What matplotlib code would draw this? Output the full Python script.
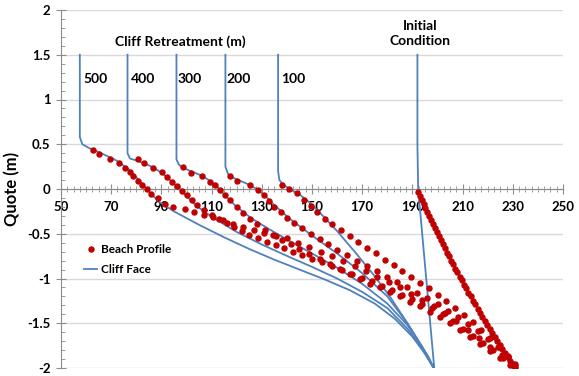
import numpy as np
import matplotlib.pyplot as plt
from matplotlib.ticker import MultipleLocator, FixedLocator
from matplotlib.lines import Line2D

plt.rcParams['font.family'] = ['Lato', 'DejaVu Sans']
plt.rcParams['font.weight'] = 'bold'

red = '#C00000'
blue = '#4F81BD'

# cliff face profiles (m): vertical cliff, toe and rock platform
cliff_init_x = [192.0, 192.0, 192.3, 195.5, 198.7]
cliff_init_y = [1.5, 0.5, 0.0, -1.0, -2.0]
cliff_100_x = [136.5, 136.5, 137.0, 138.5, 141, 145, 149, 153, 160, 167, 174, 181, 188, 193, 196.5, 198.5]
cliff_100_y = [1.5, 0.2, 0.1, 0.05, 0.0, -0.06, -0.15, -0.26, -0.47, -0.7, -0.94, -1.2, -1.5, -1.72, -1.88, -2.0]
cliff_200_x = [115.5, 115.5, 116.5, 119, 124, 128, 131, 135, 141, 150, 160, 170, 180, 188, 194, 198.5]
cliff_200_y = [1.5, 0.25, 0.17, 0.12, 0.06, 0.0, -0.07, -0.18, -0.33, -0.52, -0.72, -0.94, -1.2, -1.5, -1.78, -2.0]
cliff_300_x = [96, 96, 97, 100, 106, 110, 113, 116, 120, 126, 133, 141, 150, 160, 170, 180, 188, 194, 198.5]
cliff_300_y = [1.5, 0.33, 0.27, 0.22, 0.15, 0.08, 0.0, -0.09, -0.2, -0.33, -0.45, -0.58, -0.72, -0.88, -1.06, -1.28, -1.52, -1.77, -2.0]
cliff_400_x = [76.5, 76.5, 77.5, 81, 87, 92, 96, 100, 104, 110, 120, 130, 141, 150, 160, 170, 180, 188, 194, 198.5]
cliff_400_y = [1.5, 0.4, 0.34, 0.31, 0.24, 0.14, 0.03, -0.08, -0.19, -0.31, -0.48, -0.62, -0.76, -0.87, -1.0, -1.15, -1.33, -1.56, -1.79, -2.0]
cliff_500_x = [57.5, 57.5, 58.5, 61, 66, 72, 77, 81, 85, 89, 95, 105, 115, 125, 135, 145, 155, 165, 175, 183, 190, 195, 198.5]
cliff_500_y = [1.5, 0.58, 0.5, 0.46, 0.4, 0.32, 0.22, 0.1, -0.03, -0.14, -0.25, -0.4, -0.54, -0.67, -0.79, -0.9, -1.01, -1.13, -1.28, -1.45, -1.65, -1.84, -2.0]

# beach profiles (m)
beach_init_x = [192.3, 193.0, 193.7, 194.5, 195.2, 196.0, 196.7, 197.5, 198.2, 199.0, 199.7, 200.5,
                201.3, 202.1, 202.9, 203.7, 204.5, 205.4, 206.2, 207.1, 207.9, 208.8, 209.6, 210.5,
                211.4, 212.3, 213.2, 214.1, 215.0, 216.0, 216.9, 217.9, 218.8, 219.8, 220.8, 221.8,
                222.8, 223.8, 224.8, 225.8, 226.8, 227.9, 228.9, 230.0, 230.8]
beach_init_y = [-0.03, -0.08, -0.12, -0.17, -0.21, -0.26, -0.30, -0.35, -0.39, -0.44, -0.48, -0.53,
                -0.57, -0.62, -0.66, -0.71, -0.75, -0.80, -0.84, -0.89, -0.93, -0.98, -1.02, -1.07,
                -1.11, -1.16, -1.20, -1.25, -1.29, -1.34, -1.38, -1.43, -1.47, -1.52, -1.56, -1.61,
                -1.65, -1.70, -1.74, -1.79, -1.83, -1.88, -1.92, -1.97, -2.00]
beach_100_x = [138, 141, 144, 147, 149.5, 152, 155, 158, 161.5, 165, 168.5, 172, 175.5, 179, 182.5,
               186, 189.5, 193, 196.5, 200, 203.5, 207, 210.5, 214, 217.5, 221, 224.5, 228, 231]
beach_100_y = [0.05, 0.0, -0.05, -0.12, -0.19, -0.26, -0.33, -0.39, -0.46, -0.53, -0.59, -0.66, -0.72,
               -0.79, -0.85, -0.92, -0.98, -1.05, -1.11, -1.18, -1.25, -1.33, -1.41, -1.49, -1.58,
               -1.67, -1.77, -1.88, -1.98]
beach_200_x = [117.3, 120.2, 125.3, 128.6, 131, 133, 135, 137.5, 140, 143, 146, 149.5, 153, 156.5, 160,
               164, 168, 172, 176, 180, 184, 188, 192, 196, 200, 204, 208, 212, 216, 220, 224, 228, 231]
beach_200_y = [0.14, 0.09, 0.045, -0.01, -0.07, -0.13, -0.2, -0.26, -0.32, -0.38, -0.44, -0.5, -0.56,
               -0.62, -0.68, -0.74, -0.8, -0.86, -0.92, -0.98, -1.04, -1.1, -1.16, -1.22, -1.29, -1.36,
               -1.43, -1.51, -1.59, -1.68, -1.77, -1.87, -1.95]
beach_300_x = [98.7, 101.7, 106.0, 109.4, 111.4, 113.3, 115.3, 117.3, 120.2, 122.6, 125.3, 128.0, 131.3,
               134.5, 138, 141.5, 145, 149, 153, 157, 161, 165, 169, 173, 177, 181, 185, 189, 193, 197,
               201, 205, 209, 213, 217, 221, 225, 229]
beach_300_y = [0.25, 0.18, 0.14, 0.08, 0.045, -0.01, -0.07, -0.12, -0.20, -0.27, -0.33, -0.39, -0.46,
               -0.51, -0.57, -0.62, -0.67, -0.73, -0.78, -0.84, -0.89, -0.95, -1.0, -1.06, -1.1, -1.15,
               -1.2, -1.26, -1.31, -1.37, -1.43, -1.5, -1.58, -1.65, -1.73, -1.81, -1.89, -1.97]
beach_400_x = [80.5, 83.2, 86.8, 90.1, 92.1, 94.1, 96.1, 98.1, 100.1, 102.1, 104.1, 107, 110, 113, 116,
               119, 122, 125, 128.5, 132, 135.5, 139, 142.5, 146, 150, 154, 158, 162, 166, 170, 174,
               178, 182, 186, 190, 194, 198, 202, 206, 210, 214, 218, 222, 226, 230]
beach_400_y = [0.335, 0.287, 0.24, 0.19, 0.137, 0.08, 0.03, -0.02, -0.07, -0.12, -0.18, -0.24, -0.29,
               -0.34, -0.38, -0.43, -0.47, -0.51, -0.55, -0.59, -0.63, -0.66, -0.70, -0.74, -0.78,
               -0.82, -0.86, -0.90, -0.95, -0.99, -1.03, -1.08, -1.13, -1.18, -1.23, -1.28, -1.33,
               -1.40, -1.48, -1.56, -1.64, -1.72, -1.80, -1.89, -1.97]
beach_500_x = [62.9, 65.3, 69.5, 73.1, 75.5, 77.5, 78.8, 80.5, 82.3, 84.1, 86.0, 88.8, 91.4, 94.7, 99.4,
               103.0, 107.0, 110.7, 114.5, 118.5, 122.6, 127.0, 131.0, 135.5, 139.9, 144.5, 149.0,
               153.5, 158.0, 162.5, 167.0, 171.5, 176.0, 180.5, 185.0, 189.5, 194.0, 198.5, 203.0,
               207.5, 212.0, 216.5, 221.0, 225.5, 230.0]
beach_500_y = [0.44, 0.39, 0.335, 0.287, 0.24, 0.187, 0.14, 0.093, 0.045, 0.0, -0.056, -0.10, -0.17,
               -0.20, -0.227, -0.26, -0.29, -0.316, -0.35, -0.39, -0.42, -0.46, -0.49, -0.52, -0.55,
               -0.60, -0.65, -0.70, -0.75, -0.80, -0.86, -0.92, -0.98, -1.04, -1.10, -1.17, -1.24,
               -1.31, -1.39, -1.48, -1.57, -1.66, -1.76, -1.86, -1.96]

retreat_labels = ['500', '400', '300', '200', '100']
retreat_label_x = [58.8, 77.9, 96.6, 116.1, 137.6]
x_ticks = [50, 70, 90, 110, 130, 150, 170, 190, 210, 230, 250]

fig = plt.figure(figsize=(5.79, 3.76), dpi=100)
ax = fig.add_axes([61 / 579, 8 / 376, 502 / 579, 358 / 376])

cliffs = [(cliff_init_x, cliff_init_y), (cliff_100_x, cliff_100_y), (cliff_200_x, cliff_200_y),
          (cliff_300_x, cliff_300_y), (cliff_400_x, cliff_400_y), (cliff_500_x, cliff_500_y)]
beaches = [(beach_init_x, beach_init_y), (beach_100_x, beach_100_y), (beach_200_x, beach_200_y),
           (beach_300_x, beach_300_y), (beach_400_x, beach_400_y), (beach_500_x, beach_500_y)]

for cx, cy in cliffs:
    ax.plot(cx, cy, color=blue, lw=1.3, zorder=3)
for bx, by in beaches:
    ax.plot(bx, by, 'o', color=red, ms=3.6, mec=red, zorder=4)

ax.set_xlim(50, 250)
ax.set_ylim(-2, 2)
ax.xaxis.set_major_locator(FixedLocator(x_ticks))
ax.xaxis.set_minor_locator(MultipleLocator(2.5))
ax.yaxis.set_major_locator(MultipleLocator(0.5))
ax.yaxis.set_minor_locator(MultipleLocator(0.1))
ax.yaxis.set_major_formatter(plt.FuncFormatter(lambda v, p: f'{v:g}'))
ax.grid(axis='y', color='#d9d9d9', lw=1.0, zorder=0)

for s in ['top', 'right']:
    ax.spines[s].set_visible(False)
ax.spines['bottom'].set_position(('data', 0))
ax.spines['bottom'].set_color('#8c8c8c')
ax.spines['left'].set_color('#8c8c8c')
ax.tick_params(axis='x', which='major', direction='inout', length=7, color='#8c8c8c', labelsize=9.5, pad=5)
ax.tick_params(axis='x', which='minor', direction='inout', length=5, color='#8c8c8c')
ax.tick_params(axis='y', which='major', direction='inout', length=7, color='#8c8c8c', labelsize=9.5, pad=4)
ax.tick_params(axis='y', which='minor', direction='in', length=3, color='#8c8c8c')

ax.set_ylabel('Quote (m)', fontsize=12, fontweight='bold')
ax.yaxis.set_label_coords(-0.082, 0.5)

ax.text(97.4, 1.65, 'Cliff Retreatment (m)', ha='center', va='center', fontsize=10, fontweight='bold')
for lab, lx in zip(retreat_labels, retreat_label_x):
    ax.text(lx, 1.23, lab, ha='left', va='center', fontsize=10, fontweight='bold')
ax.text(193, 1.74, 'Initial\nCondition', ha='center', va='center', fontsize=10,
        fontweight='bold', linespacing=1.3)

handles = [Line2D([], [], marker='o', ls='none', color=red, ms=3.6),
           Line2D([], [], color=blue, lw=1.3)]
ax.legend(handles, ['Beach Profile', 'Cliff Face'], loc='upper left', bbox_to_anchor=(0.025, 0.375),
          frameon=False, fontsize=8.5, handlelength=1.1, handletextpad=0.3, labelspacing=0.7)

fig.savefig('out.png', dpi=100)
